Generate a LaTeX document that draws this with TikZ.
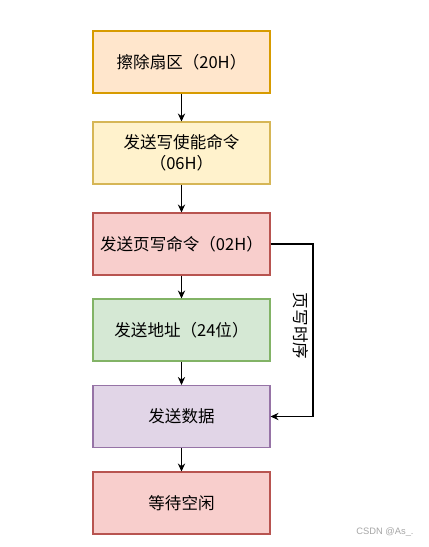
\documentclass[tikz,border=0pt]{standalone}
\usepackage{fontspec}
\setmainfont{Noto Sans CJK SC}
\newfontfamily\markfont{Liberation Sans}
\usetikzlibrary{arrows.meta,positioning}

\definecolor{orangefill}{HTML}{FFE6CC}\definecolor{orangeline}{HTML}{D79B00}
\definecolor{yellowfill}{HTML}{FFF2CC}\definecolor{yellowline}{HTML}{D6B656}
\definecolor{redfill}{HTML}{F8CECC}\definecolor{redline}{HTML}{B85450}
\definecolor{greenfill}{HTML}{D5E8D4}\definecolor{greenline}{HTML}{82B366}
\definecolor{purplefill}{HTML}{E1D5E7}\definecolor{purpleline}{HTML}{9673A6}

\tikzset{
  stepbox/.style={draw,line width=0.8pt,minimum width=132.75pt,minimum height=46.5pt,
    align=center,inner sep=2pt,font=\fontsize{12.4}{15.75}\selectfont},
  flow/.style={line width=0.8pt,-{Stealth[length=6pt,width=5.5pt]}}
}

\begin{document}
\begin{tikzpicture}[x=0.75pt,y=-0.75pt]
\useasboundingbox[fill=white] (0,0) rectangle (429,547);
\node[stepbox,fill=orangefill,draw=orangeline] (s0) at (181.5,62) {擦除扇区（20H）};
\node[stepbox,fill=yellowfill,draw=yellowline] (s1) at (181.5,153) {发送写使能命令\\（06H）};
\node[stepbox,fill=redfill,draw=redline] (s2) at (181.5,244) {发送页写命令（02H）};
\node[stepbox,fill=greenfill,draw=greenline] (s3) at (181.5,330) {发送地址（24位）};
\node[stepbox,fill=purplefill,draw=purpleline] (s4) at (181.5,416.5) {发送数据};
\node[stepbox,fill=redfill,draw=redline] (s5) at (181.5,503) {等待空闲};
\coordinate (turn) at (313,244);
\draw[flow] (s0.south)--(s1.north);
\draw[flow] (s1.south)--(s2.north);
\draw[flow] (s2.south)--(s3.north);
\draw[flow] (s3.south)--(s4.north);
\draw[flow] (s4.south)--(s5.north);
\draw[flow] (s2.east)--(turn)|-(s4.east);
\node[rotate=-90,font=\fontsize{12.4}{15}\selectfont,inner sep=0pt] (lbl) at (301,326) {页写时序};
\node[text=black!35,font=\markfont\fontsize{7}{8}\selectfont,inner sep=0pt] (mark) at (385,532) {CSDN @As\_.};
\end{tikzpicture}
\end{document}
